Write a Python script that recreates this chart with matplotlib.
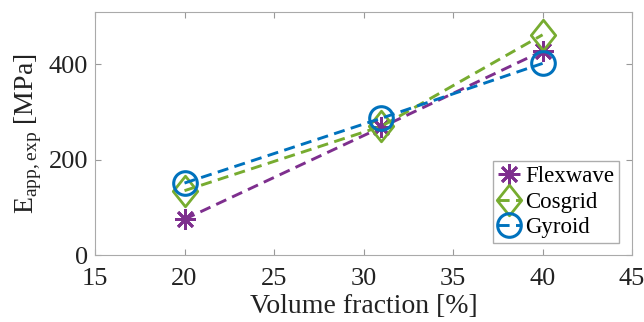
import matplotlib
matplotlib.use("Agg")
import matplotlib.pyplot as plt
from matplotlib.path import Path

plt.rcParams['font.family'] = ['Liberation Serif', 'DejaVu Serif']
plt.rcParams['mathtext.fontset'] = 'custom'
plt.rcParams['mathtext.rm'] = 'Liberation Serif'

vol = [20, 31, 40]
flexwave = [75, 268, 428]
cosgrid = [135, 270, 462]
gyroid = [151, 287, 402]

names = ['Flexwave', 'Cosgrid', 'Gyroid']
colors = ['#7E2F8E', '#77AC30', '#0072BD']

# matlab-like diamond (a bit taller than wide)
diamond = Path([(0, 1), (0.8, 0), (0, -1), (-0.8, 0), (0, 1)],
               [Path.MOVETO, Path.LINETO, Path.LINETO, Path.LINETO, Path.CLOSEPOLY])
mk = [dict(marker=(8, 2, 0), ms=15, mew=2),
      dict(marker=diamond, ms=22, mew=2, mfc='none'),
      dict(marker='o', ms=17, mew=2.2, mfc='none')]

fig = plt.figure(figsize=(6.44, 3.22), dpi=100)
ax = fig.add_axes([0.1475, 0.208, 0.834, 0.755])

for ys, n, c, m in zip([flexwave, cosgrid, gyroid], names, colors, mk):
    ax.plot(vol, ys, color=c, lw=2.1, ls=(0, (3.8, 2.2)), label=n, **m)

ax.set_xlim(15, 45)
ax.set_ylim(0, 510)
ax.set_xticks([15, 20, 25, 30, 35, 40, 45])
ax.set_yticks([0, 200, 400])
ax.tick_params(direction='in', length=4, labelsize=19, top=True, right=True,
               colors='#999999', labelcolor='#222222')
ax.tick_params(axis='x', pad=9)
ax.tick_params(axis='y', pad=5)
for s in ax.spines.values():
    s.set_color('#aaaaaa')
ax.set_xlabel('Volume fraction [%]', fontsize=20, color='#222222', labelpad=3)
ax.set_ylabel(r'E$_{\mathrm{app,exp}}$ [MPa]', fontsize=20, color='#222222', labelpad=3)
leg = ax.legend(loc='lower right', fontsize=16.5, frameon=True, fancybox=False,
                edgecolor='#999999', handlelength=1.0, borderpad=0.2, labelspacing=0.2,
                handletextpad=0.2, borderaxespad=0, bbox_to_anchor=(0.975, 0.05))
leg.get_frame().set_linewidth(1)
fig.savefig('out.png', dpi=100)
